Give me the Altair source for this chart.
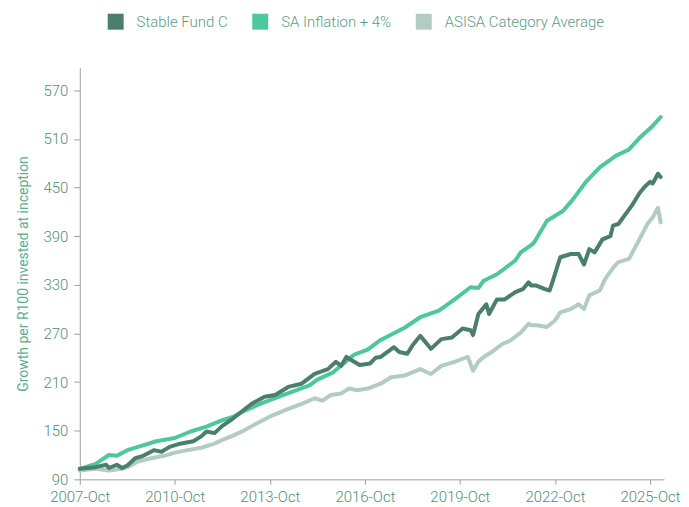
import altair as alt
import pandas as pd

series_names = ["Stable Fund C", "SA Inflation + 4%", "ASISA Category Average"]
series_colors = ["#4A7F6B", "#4CC89A", "#B3CCC2"]

fund_months = ["2007-10", "2008-04", "2008-08", "2008-09", "2008-12", "2009-02", "2009-04", "2009-07",
               "2009-10", "2010-02", "2010-05", "2010-08", "2010-12", "2011-05", "2011-08", "2011-10",
               "2012-01", "2012-04", "2012-08", "2013-03", "2013-08", "2013-12", "2014-05", "2014-10",
               "2015-03", "2015-08", "2015-11", "2016-01", "2016-03", "2016-05", "2016-08", "2016-12",
               "2017-02", "2017-04", "2017-09", "2017-11", "2018-02", "2018-04", "2018-07", "2018-11",
               "2019-03", "2019-07", "2019-11", "2020-02", "2020-03", "2020-05", "2020-08", "2020-09",
               "2020-12", "2021-03", "2021-07", "2021-10", "2021-12", "2022-01", "2022-03", "2022-06",
               "2022-08", "2022-09", "2022-12", "2023-04", "2023-07", "2023-09", "2023-11", "2024-01",
               "2024-04", "2024-07", "2024-08", "2024-10", "2025-03", "2025-06", "2025-08", "2025-10",
               "2025-11", "2026-01", "2026-02"]
fund_values = [103, 105, 108, 104, 108, 104, 107, 116,
               119, 126, 124, 130, 134, 137, 143, 149,
               147, 156, 165, 183, 192, 194, 204, 208,
               220, 226, 235, 230, 241, 237, 231, 233,
               240, 241, 253, 247, 245, 255, 267, 251,
               263, 265, 276, 274, 268, 294, 306, 294,
               312, 312, 321, 325, 333, 329, 329, 325,
               323, 333, 364, 368, 368, 355, 374, 370,
               386, 390, 403, 405, 427, 443, 451, 457,
               455, 467, 463]

infl_months = ["2007-10", "2008-04", "2008-09", "2008-12", "2009-04", "2009-09", "2010-03", "2010-10",
               "2011-04", "2011-10", "2012-04", "2012-08", "2012-12", "2013-07", "2014-03", "2015-01",
               "2015-04", "2015-10", "2016-06", "2016-11", "2017-04", "2018-01", "2018-07", "2019-02",
               "2019-08", "2020-02", "2020-05", "2020-07", "2020-12", "2021-07", "2021-09", "2022-01",
               "2022-02", "2022-07", "2023-01", "2023-05", "2023-10", "2024-03", "2024-09", "2025-02",
               "2025-06", "2025-11", "2026-02"]
infl_values = [103, 109, 120, 119, 126, 131, 137, 141,
               149, 155, 163, 167, 174, 184, 194, 206,
               213, 222, 244, 250, 262, 277, 290, 298,
               312, 327, 326, 335, 343, 360, 370, 379,
               382, 409, 421, 436, 458, 475, 489, 497,
               511, 526, 537]

asisa_months = ["2007-10", "2008-04", "2008-09", "2009-02", "2009-04", "2009-08", "2010-01", "2010-06",
                "2010-10", "2011-03", "2011-08", "2012-01", "2012-05", "2012-08", "2012-12", "2013-05",
                "2013-11", "2014-05", "2014-10", "2015-03", "2015-06", "2015-09", "2016-01", "2016-04",
                "2016-07", "2016-11", "2017-04", "2017-08", "2018-01", "2018-07", "2018-11", "2019-03",
                "2019-08", "2019-12", "2020-01", "2020-03", "2020-05", "2020-07", "2020-10", "2021-02",
                "2021-05", "2021-09", "2021-12", "2022-01", "2022-03", "2022-07", "2022-10", "2022-12",
                "2023-04", "2023-07", "2023-09", "2023-11", "2024-03", "2024-05", "2024-08", "2024-10",
                "2025-02", "2025-06", "2025-09", "2025-11", "2026-01", "2026-02"]
asisa_values = [101, 103, 101, 103, 105, 112, 116, 119,
                123, 126, 129, 134, 140, 144, 150, 159,
                169, 177, 183, 190, 187, 194, 196, 202,
                200, 202, 208, 216, 218, 226, 220, 230,
                235, 240, 241, 224, 235, 241, 247, 257,
                261, 271, 282, 280, 280, 278, 286, 296,
                300, 306, 300, 317, 323, 337, 351, 358,
                362, 386, 405, 413, 425, 407]

y_ticks = [90, 150, 210, 270, 330, 390, 450, 510, 570]
x_tick_years = [2007, 2010, 2013, 2016, 2019, 2022, 2025]

frames = []
for name, months, values in [
    (series_names[2], asisa_months, asisa_values),
    (series_names[1], infl_months, infl_values),
    (series_names[0], fund_months, fund_values),
]:
    frames.append(pd.DataFrame({"series": name, "date": [m + "-01" for m in months], "value": values}))
df = pd.concat(frames, ignore_index=True)

text_color = "#4F9078"
axis_color = "#A0A0A0"

x_enc = alt.X(
    "date:T",
    scale=alt.Scale(type="utc", domain=[alt.DateTime(year=2007, month=10, date=1, utc=True),
                                        alt.DateTime(year=2026, month=3, date=12, utc=True)]),
    axis=alt.Axis(values=[alt.DateTime(year=y, month=10, date=1, utc=True) for y in x_tick_years],
                  format="%Y-%b", title=None, grid=False, labelPadding=5, tickSize=5,
                  labelFlush=False),
)
y_enc = alt.Y(
    "value:Q",
    scale=alt.Scale(domain=[90, 598], nice=False, zero=False),
    axis=alt.Axis(values=y_ticks, title="Growth per R100 invested at inception", grid=False,
                  titleColor="#5BB08E", titleFontSize=14, titleFontWeight="normal", titlePadding=12,
                  tickSize=6, labelPadding=6),
)
color_enc = alt.Color(
    "series:N",
    scale=alt.Scale(domain=series_names, range=series_colors),
    legend=alt.Legend(
        title=None, orient="none", direction="horizontal", legendX=28, legendY=-54,
        symbolType="square", symbolSize=64, symbolStrokeWidth=8, labelFontSize=15,
        labelColor="#5C9C85", labelOffset=13, columnPadding=12, padding=0, labelLimit=400,
    ),
)

layers = []
for name in [series_names[2], series_names[1], series_names[0]]:
    layers.append(
        alt.Chart(df).transform_filter(alt.datum.series == name)
        .mark_line(strokeWidth=4, strokeJoin="round", strokeCap="round")
        .encode(x=x_enc, y=y_enc, color=color_enc)
    )

chart = alt.layer(*layers).properties(
    width=586, height=413,
    padding={"left": 9, "top": 5, "right": 0, "bottom": 0},
).configure_view(stroke=None).configure_axis(
    labelFont="Roboto", titleFont="Roboto", labelFontSize=15, labelColor=text_color,
    domainColor=axis_color, tickColor=axis_color, labelFontWeight=300,
).configure_legend(labelFont="Roboto", labelFontWeight=300)

chart.save("out.html", embed_options={"renderer": "svg", "actions": False})
